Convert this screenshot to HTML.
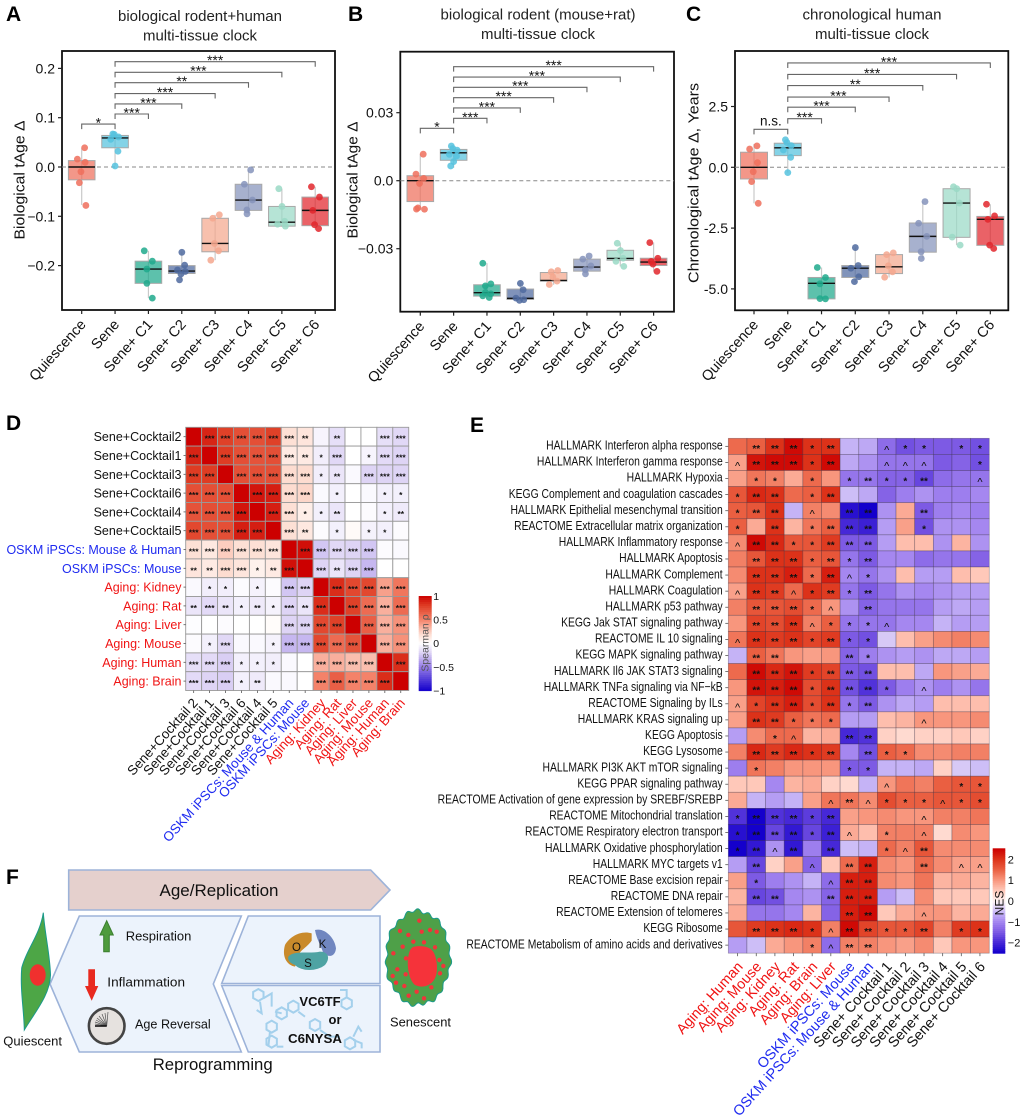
<!DOCTYPE html>
<html lang="en">
<head>
<meta charset="utf-8">
<title>Multi-tissue clock figure</title>
<style>
html,body{margin:0;padding:0;background:#fff;}
#figure{display:block;width:1020px;height:1120px;font-family:"Liberation Sans",sans-serif;}
text{font-family:"Liberation Sans",sans-serif;fill:#111;}
.letter{font-size:21px;font-weight:700;fill:#000;}
.title{font-size:15px;fill:#222;}
</style>
</head>
<body>
<svg id="figure" xmlns="http://www.w3.org/2000/svg" width="1020" height="1120" viewBox="0 0 1020 1120">
  <rect x="0" y="0" width="1020" height="1120" fill="#fff"/>

  <text class="letter" x="6" y="21">A</text>
  <text class="letter" x="348" y="21">B</text>
  <text class="letter" x="686" y="21">C</text>
  <text class="letter" x="6" y="430">D</text>
  <text class="letter" x="470" y="432">E</text>
  <text class="letter" x="6" y="884">F</text>

  <text class="title" x="200" y="21" text-anchor="middle" textLength="164" lengthAdjust="spacingAndGlyphs">biological rodent+human</text>
  <text class="title" x="200" y="40.5" text-anchor="middle" textLength="114" lengthAdjust="spacingAndGlyphs">multi-tissue clock</text>
  <text class="title" x="538" y="19.5" text-anchor="middle" textLength="195" lengthAdjust="spacingAndGlyphs">biological rodent (mouse+rat)</text>
  <text class="title" x="538" y="39" text-anchor="middle" textLength="114" lengthAdjust="spacingAndGlyphs">multi-tissue clock</text>
  <text class="title" x="872" y="19.5" text-anchor="middle" textLength="139" lengthAdjust="spacingAndGlyphs">chronological human</text>
  <text class="title" x="872" y="39" text-anchor="middle" textLength="114" lengthAdjust="spacingAndGlyphs">multi-tissue clock</text>

  <g id="panel-a"></g>
  <g id="panel-b"></g>
  <g id="panel-c"></g>
  <g id="panel-d"></g>
  <g id="panel-e"></g>

  <g id="panel-f">
    <polygon points="68.7,870 370.7,870 390,890 370.7,910 68.7,910" fill="#e5d0cd" stroke="#9db3d9" stroke-width="1.6"/>
    <text x="219" y="896" font-size="17" text-anchor="middle" textLength="119" lengthAdjust="spacingAndGlyphs">Age/Replication</text>
    <polygon points="79.3,916 241.3,916 213.3,984 241.3,1052 79.3,1052 50,984" fill="#ecf3fc" stroke="#9db3d9" stroke-width="1.6"/>
    <polygon points="248.3,916 380,916 380,983.5 221.7,983.5" fill="#ecf3fc" stroke="#9db3d9" stroke-width="1.6"/>
    <polygon points="221.7,985.5 380,985.5 380,1052 248.3,1052" fill="#ecf3fc" stroke="#9db3d9" stroke-width="1.6"/>

    <polygon points="106.7,920.7 113.3,935 109.3,935 109.3,951.7 103.7,951.7 103.7,935 100,935" fill="#4f9b3d" stroke="#3b7f2f"/>
    <polygon points="88.3,969.3 95,969.3 95,986 98.3,986 91.7,1000.7 85,986 88.3,986" fill="#e8291f"/>
    <text x="125.7" y="940.7" font-size="13" textLength="65.7" lengthAdjust="spacingAndGlyphs">Respiration</text>
    <text x="107.3" y="986.7" font-size="13" textLength="77.7" lengthAdjust="spacingAndGlyphs">Inflammation</text>
    <text x="135" y="1028.3" font-size="13" textLength="75.7" lengthAdjust="spacingAndGlyphs">Age Reversal</text>

    <g>
      <circle cx="106.7" cy="1026" r="17.8" fill="#e6e2df" stroke="#444" stroke-width="2.6"/>
      <g stroke="#555" stroke-width="0.7">
        <line x1="106.7" y1="1026" x2="108" y2="1012"/><line x1="106.7" y1="1026" x2="105" y2="1013"/>
        <line x1="106.7" y1="1026" x2="102" y2="1014"/><line x1="106.7" y1="1026" x2="99" y2="1016"/>
        <line x1="106.7" y1="1026" x2="97" y2="1018"/><line x1="106.7" y1="1026" x2="96" y2="1020"/>
        <line x1="106.7" y1="1026" x2="95" y2="1022"/><line x1="106.7" y1="1026" x2="95" y2="1024"/>
      </g>
      <line x1="106.7" y1="1026" x2="95" y2="1026" stroke="#111" stroke-width="1.6"/>
    </g>

    <g transform="translate(0,850) scale(0.33333)">
      <path d="M935,250 C900,240 868,262 855,285 C845,320 860,345 885,350 L900,320 C890,305 920,295 935,272 Z" fill="#c98a2b"/>
      <path d="M945,240 C975,232 1005,265 1008,295 C1005,322 985,322 970,310 C965,290 950,270 945,240 Z" fill="#7086c0"/>
      <path d="M865,320 C880,300 930,312 960,305 C985,305 992,325 975,345 C950,365 905,365 885,345 C870,340 862,330 865,320 Z" fill="#4ea3a3"/>
    </g>
    <text x="296.5" y="951" font-size="11.5" text-anchor="middle">O</text>
    <text x="322.5" y="948" font-size="11.5" text-anchor="middle">K</text>
    <text x="308" y="967" font-size="11.5" text-anchor="middle">S</text>

    <g id="molecules" transform="translate(0,850) scale(0.33333)" fill="none" stroke="#a4d0ec" stroke-width="6"></g>

    <text x="320" y="1006" font-size="13" font-weight="700" text-anchor="middle">VC6TF</text>
    <text x="335" y="1024" font-size="13" font-weight="700" text-anchor="middle">or</text>
    <text x="315" y="1043" font-size="13" font-weight="700" text-anchor="middle" textLength="54" lengthAdjust="spacingAndGlyphs">C6NYSA</text>
    <text x="212.7" y="1070" font-size="17" text-anchor="middle" textLength="120" lengthAdjust="spacingAndGlyphs">Reprogramming</text>

    <path d="M43.3,912.7 C45,935 50,955 50.5,975 C50,995 35,1012 24.3,1030 C24,1010 20,990 21.7,968 C26,950 40,935 43.3,912.7 Z" fill="#4da646" stroke="#1a9a8a" stroke-width="1"/>
    <ellipse cx="37.7" cy="975" rx="8" ry="10.7" fill="#f0302e"/>
    <text x="3.3" y="1045.7" font-size="13" textLength="58.7" lengthAdjust="spacingAndGlyphs">Quiescent</text>

    <polygon id="senescent-body" fill="#4ea048" stroke="#1a9a8a" stroke-width="1"/>
    <path d="M413,947 C420,945 431,946 434,953 C438,962 438,974 434,980 C429,987 421,988 415,985 C409,980 407,967 408,958 C409,952 410,949 413,947 Z" fill="#f5333a"/>
    <g id="senescent-dots"></g>
    <text x="390" y="1026.7" font-size="13" textLength="61" lengthAdjust="spacingAndGlyphs">Senescent</text>
  </g>
</svg>

<script>
// ---------- shared chart data ----------
const boxCategories = ['Quiescence','Sene','Sene+ C1','Sene+ C2','Sene+ C3','Sene+ C4','Sene+ C5','Sene+ C6'];
const boxFillColors = ['#ef6f5c','#55c2de','#1fa98c','#4f6a9f','#f4a78e','#8593bb','#9ad9c6','#e2262c'];

// Panel A
const panelATickValues = [0.2,0.1,0,-0.1,-0.2];
const panelATickLabels = ['0.2','0.1','0.0','\u22120.1','\u22120.2'];
const panelAQ1 = [-0.026,0.039,-0.236,-0.216,-0.172,-0.088,-0.12,-0.119];
const panelAMedian = [0,0.059,-0.207,-0.211,-0.155,-0.067,-0.112,-0.088];
const panelAQ3 = [0.013,0.064,-0.191,-0.2,-0.104,-0.035,-0.08,-0.061];
const panelAWhiskerLow = [-0.077,0.003,-0.266,-0.229,-0.189,-0.095,-0.121,-0.127];
const panelAWhiskerHigh = [0.038,0.07,-0.17,-0.173,-0.097,-0.006,-0.044,-0.04];
const panelAPoints = [
  [0.039,0.016,0.0095,-0.0095,-0.032,-0.078],
  [0.067,0.066,0.061,0.056,0.032,0.002],
  [-0.17,-0.191,-0.207,-0.236,-0.266],
  [-0.173,-0.199,-0.209,-0.212,-0.217,-0.229],
  [-0.097,-0.104,-0.155,-0.17,-0.189],
  [-0.006,-0.035,-0.067,-0.087,-0.095],
  [-0.044,-0.08,-0.11,-0.116,-0.12],
  [-0.04,-0.061,-0.088,-0.117,-0.125]
];
const panelABracketLevels = [0.087,0.1075,0.128,0.149,0.171,0.192,0.2136];
const panelASignificance = ['*','***','***','***','**','***','***'];

// Panel B
const panelBTickValues = [0.03,0,-0.03];
const panelBTickLabels = ['0.03','0.0','\u22120.03'];
const panelBQ1 = [-0.0092,0.009,-0.0509,-0.0524,-0.0443,-0.0399,-0.0351,-0.0374];
const panelBMedian = [0,0.0123,-0.0494,-0.0519,-0.044,-0.0381,-0.0343,-0.0359];
const panelBQ3 = [0.0022,0.0138,-0.0459,-0.0478,-0.0405,-0.0346,-0.0307,-0.0342];
const panelBWhiskerLow = [-0.0129,0.0057,-0.0518,-0.053,-0.0459,-0.0415,-0.0378,-0.04];
const panelBWhiskerHigh = [0.0117,0.015,-0.0364,-0.0452,-0.0396,-0.0332,-0.0276,-0.0273];
const panelBPoints = [
  [0.0117,0.0029,0.001,-0.0012,-0.012,-0.0126,-0.0125],
  [0.0153,0.0142,0.0135,0.0116,0.0109,0.0084,0.0065],
  [-0.0364,-0.0455,-0.0464,-0.0493,-0.0499,-0.0508,-0.0515],
  [-0.0453,-0.0481,-0.0518,-0.0525,-0.0528],
  [-0.0396,-0.0402,-0.0425,-0.0443,-0.0458],
  [-0.0332,-0.0346,-0.0376,-0.0393,-0.0411],
  [-0.0276,-0.0308,-0.0342,-0.0356,-0.0378],
  [-0.0273,-0.0342,-0.0356,-0.0368,-0.04]
];
const panelBBracketLevels = [0.0231,0.0275,0.0321,0.0366,0.0412,0.0457,0.0503];
const panelBSignificance = ['*','***','***','***','***','***','***'];

// Panel C
const panelCTickValues = [2.5,0,-2.5,-5];
const panelCTickLabels = ['2.5','0.0','-2.5','-5.0'];
const panelCQ1 = [-0.48,0.48,-5.41,-4.53,-4.37,-3.49,-2.88,-3.21];
const panelCMedian = [0,0.8,-4.77,-4.15,-4.09,-2.84,-1.47,-2.14];
const panelCQ3 = [0.62,0.99,-4.53,-4.04,-3.59,-2.29,-0.88,-2.02];
const panelCWhiskerLow = [-1.48,-0.22,-5.41,-4.71,-4.53,-3.75,-3.2,-3.34];
const panelCWhiskerHigh = [0.96,1.15,-4.12,-3.3,-3.52,-1.41,-0.8,-1.52];
const panelCPoints = [
  [0.88,0.75,0.19,-0.18,-0.59,-1.48],
  [1.13,1.02,0.89,0.71,0.41,-0.22],
  [-4.12,-4.53,-4.79,-5.4,-5.41],
  [-3.3,-4.04,-4.15,-4.5,-4.7],
  [-3.52,-3.59,-4.05,-4.3,-4.52],
  [-1.41,-2.3,-2.84,-3.47,-3.75],
  [-0.8,-0.88,-1.47,-2.87,-3.2],
  [-1.52,-2.0,-2.14,-3.2,-3.34]
];
const panelCBracketLevels = [1.56,2.0,2.47,2.89,3.36,3.82,4.29];
const panelCSignificance = ['n.s.','***','***','***','**','***','***'];

// Panel D
const corrRowLabels = ['Sene+Cocktail2','Sene+Cocktail1','Sene+Cocktail3','Sene+Cocktail6','Sene+Cocktail4','Sene+Cocktail5','OSKM iPSCs: Mouse & Human','OSKM iPSCs: Mouse','Aging: Kidney','Aging: Rat','Aging: Liver','Aging: Mouse','Aging: Human','Aging: Brain'];
const corrColLabels = ['Sene+Cocktail 2','Sene+Cocktail 1','Sene+Cocktail 3','Sene+Cocktail 6','Sene+Cocktail 4','Sene+Cocktail 5','OSKM iPSCs: Mouse & Human','OSKM iPSCs: Mouse','Aging: Kidney','Aging: Rat','Aging: Liver','Aging: Mouse','Aging: Human','Aging: Brain'];
const corrValues = [
  [1,.88,.78,.72,.72,.78,.18,.15,-.05,-.15,0,0,-.15,-.18],
  [.88,1,.8,.72,.7,.72,.12,.12,-.08,-.18,0,-.05,-.17,-.2],
  [.8,.8,1,.72,.72,.72,.2,.2,-.08,-.12,-.03,-.2,-.2,-.2],
  [.72,.72,.72,1,.93,.9,.2,.22,-.03,-.07,0,-.03,-.07,-.07],
  [.7,.72,.72,.93,1,.9,.18,.1,-.07,-.12,0,-.02,-.07,-.1],
  [.75,.72,.72,.9,.9,1,.18,.13,-.02,-.07,.03,-.06,-.07,-.02],
  [.18,.13,.25,.18,.18,.15,1,.95,-.25,-.18,-.2,-.25,-.02,-.03],
  [.15,.12,.2,.15,.08,.12,.95,1,-.2,-.12,-.2,-.3,0,0],
  [-.03,-.08,-.08,-.02,-.06,-.02,-.25,-.2,1,.85,.75,.75,.4,.55],
  [-.12,-.17,-.12,-.07,-.1,-.06,-.2,-.12,.85,1,.78,.6,.35,.6],
  [-.01,0,-.02,0,0,.02,-.2,-.2,.75,.78,1,.65,.35,.45],
  [-.02,-.07,-.18,-.03,-.03,-.06,-.3,-.3,.75,.6,.7,1,.35,.45],
  [-.15,-.17,-.22,-.07,-.07,-.08,-.03,0,.35,.35,.3,.3,1,.85],
  [-.17,-.2,-.22,-.07,-.1,-.03,-.03,0,.5,.65,.5,.5,.85,1]
];
const corrSignificance = [
  ['','***','***','***','***','***','***','**','','**','','','***','***'],
  ['***','','***','***','***','***','***','**','*','***','','*','***','***'],
  ['***','***','','***','***','***','***','***','*','**','','***','***','***'],
  ['***','***','***','','***','***','***','***','','*','','','*','*'],
  ['***','***','***','***','','***','***','*','*','**','','','*','**'],
  ['***','***','***','***','***','','***','**','','*','','*','*',''],
  ['***','***','***','***','***','***','','***','***','***','***','***','',''],
  ['**','**','***','***','*','**','***','','***','**','***','***','',''],
  ['','*','*','','*','','***','***','','***','***','***','***','***'],
  ['**','***','**','*','**','*','***','**','***','','***','***','***','***'],
  ['','','','','','','***','***','***','***','','***','***','***'],
  ['','*','***','','','*','***','***','***','***','***','','***','***'],
  ['***','***','***','*','*','*','','','***','***','***','***','','***'],
  ['***','***','***','*','**','','','','***','***','***','***','***','']
];
const corrLegendTicks = [1,0.5,0,-0.5,-1];

// Panel E
const nesPathways = ['HALLMARK Interferon alpha response','HALLMARK Interferon gamma response','HALLMARK Hypoxia','KEGG Complement and coagulation cascades','HALLMARK Epithelial mesenchymal transition','REACTOME Extracellular matrix organization','HALLMARK Inflammatory response','HALLMARK Apoptosis','HALLMARK Complement','HALLMARK Coagulation','HALLMARK p53 pathway','KEGG Jak STAT signaling pathway','REACTOME IL 10 signaling','KEGG MAPK signaling pathway','HALLMARK Il6 JAK STAT3 signaling','HALLMARK TNFa signaling via NF\u2212kB','REACTOME Signaling by ILs','HALLMARK KRAS signaling up','KEGG Apoptosis','KEGG Lysosome','HALLMARK PI3K AKT mTOR signaling','KEGG PPAR signaling pathway','REACTOME Activation of gene expression by SREBF/SREBP','REACTOME Mitochondrial translation','REACTOME Respiratory electron transport','HALLMARK Oxidative phosphorylation','HALLMARK MYC targets v1','REACTOME Base excision repair','REACTOME DNA repair','REACTOME Extension of telomeres','KEGG Ribosome','REACTOME Metabolism of amino acids and derivatives'];
const nesColumns = ['Aging: Human','Aging: Mouse','Aging: Kidney','Aging: Rat','Aging: Brain','Aging: Liver','OSKM iPSCs: Mouse','OSKM iPSCs: Mouse & Human','Sene+ Cocktail 1','Sene+ Cocktail 2','Sene+ Cocktail 3','Sene+ Cocktail 4','Sene+ Cocktail 5','Sene+ Cocktail 6'];
const nesValues = [
  [1.4,1.5,2.0,2.4,2.0,2.0,-.6,-.7,-1.3,-1.6,-1.5,-1.5,-1.5,-1.6],
  [.9,2.3,2.4,2.4,2.0,2.4,-.7,-.9,-1.2,-1.2,-1.2,-1.5,-1.4,-1.6],
  [.9,1.3,1.2,.8,1.4,1.0,-1.2,-1.2,-1.4,-1.4,-1.7,-1.3,-1.2,-1.2],
  [1.6,2.1,2.0,1.4,1.5,2.0,-.5,-.7,-1.4,-1.1,-.9,-1.1,-1.1,-1.0],
  [1.5,1.6,2.0,-.6,1.2,1.1,-2.3,-2.5,-.9,.8,-1.5,-1.1,-1.0,-1.1],
  [1.5,.8,2.0,.7,1.3,1.5,-2.0,-2.1,-.8,.9,-1.6,-.9,-.9,-1.0],
  [1.1,2.4,2.1,1.6,1.6,1.9,-1.5,-1.5,-.8,.6,.6,-.9,.7,-.9],
  [1.2,1.6,2.0,2.0,1.5,1.6,-1.2,-1.5,-1.0,-1.0,-1.3,-1.2,-1.2,-1.4],
  [1.1,2.0,2.0,2.2,1.4,2.2,-1.0,-1.2,-.9,.6,-.8,-.8,.6,.5],
  [.9,2.0,1.9,1.4,2.0,1.9,-1.2,-1.5,-1.2,-.9,-1.0,-.9,-.8,-.8],
  [1.2,1.6,1.6,1.7,1.4,1.0,-.9,-1.4,-1.2,-1.2,-1.2,-.8,-.7,-.8],
  [1.0,1.8,1.7,2.0,1.2,1.5,-1.2,-1.2,-1.2,-1.0,-1.0,-.6,-.8,-.8],
  [1.3,2.0,1.9,2.0,1.8,1.9,-1.5,-1.6,-.4,.6,.9,1.1,1.2,1.1],
  [-.6,1.5,1.3,1.0,.9,1.0,-1.4,-1.1,-.9,-.8,-.9,-.7,-.7,-.8],
  [1.4,2.4,2.1,2.3,1.9,1.8,-1.5,-1.6,.6,.6,-.7,1.0,.9,.8],
  [1.0,2.3,2.2,2.4,1.7,2.0,-1.6,-1.9,-1.5,-1.1,-.9,-1.1,-.9,-1.2],
  [.9,1.8,2.0,2.2,1.7,2.0,-1.2,-1.5,-.9,-.7,-.8,.6,.6,.6],
  [.9,2.0,1.9,1.5,1.3,1.4,-.8,-.8,.6,.7,1.0,1.0,1.0,1.1],
  [-.8,1.1,1.4,1.4,.7,.8,-2.0,-1.9,.4,.3,.4,.4,.5,.4],
  [1.2,2.1,1.9,2.1,2.0,1.9,-1.0,-1.6,1.5,1.4,1.1,1.1,1.2,1.2],
  [-1.1,1.3,1.2,1.0,1.0,1.0,-1.5,-1.5,-.6,-.6,-.7,.4,-.4,-.5],
  [.5,.5,-1.0,.7,.8,.4,.3,-.6,1.0,1.3,1.2,1.5,1.6,1.6],
  [.8,-.6,-.8,-.6,.9,1.3,1.3,1.1,1.7,1.5,1.5,1.6,1.6,1.7],
  [-1.9,-2.5,-1.9,-2.0,-1.8,-2.0,.9,1.0,1.1,1.0,1.0,1.2,1.2,1.3],
  [-2.3,-2.6,-1.7,-2.2,-1.7,-2.1,.8,.6,1.2,1.2,1.2,.3,1.1,1.0],
  [-2.5,-2.2,-.9,-2.2,-1.1,-2.0,-.5,-.6,1.4,1.2,1.6,1.1,1.1,1.1],
  [-.8,-1.7,.4,.9,-1.4,.5,1.4,2.2,1.1,1.0,1.4,1.1,.9,.9],
  [.9,-1.5,-1.1,-.9,-.6,-1.3,2.2,2.2,1.1,1.0,1.3,.7,.8,.7],
  [.7,-1.7,-1.6,-1.0,-.9,-1.4,2.2,2.2,-.8,-.5,1.1,.5,.5,.5],
  [.8,-1.2,-1.2,-1.0,.7,-1.4,2.2,2.4,.5,.8,1.0,1.0,.7,.8],
  [1.6,1.9,2.0,2.1,2.0,1.2,2.4,1.8,1.6,1.6,1.8,1.2,1.9,2.0],
  [-.8,-.5,.8,1.0,1.2,-1.3,1.2,1.2,1.0,.9,1.1,.5,1.0,1.0]
];
const nesSignificance = [
  ['','**','**','**','*','**','','','^','*','*','','*','*'],
  ['^','**','**','**','*','**','','','^','^','^','','','*'],
  ['','*','*','','*','','*','**','*','*','**','','','^'],
  ['*','**','**','','*','**','','','','','','','',''],
  ['*','**','**','','^','','**','**','','','**','','',''],
  ['*','','**','','*','**','**','**','','','*','','',''],
  ['^','**','**','*','*','**','**','**','','','','','',''],
  ['','**','**','**','*','**','*','**','','','','','',''],
  ['','**','**','**','*','**','^','*','','','','','',''],
  ['^','**','**','^','*','**','*','**','','','','','',''],
  ['','**','**','**','*','^','','**','','','','','',''],
  ['','**','**','**','^','*','*','*','^','','','','',''],
  ['^','**','**','**','*','**','*','*','','','','','',''],
  ['','**','**','','','','**','*','','','','','',''],
  ['','**','**','**','*','**','**','**','','','','','',''],
  ['','**','**','**','*','**','**','**','*','','^','','',''],
  ['^','*','**','**','*','**','*','**','','','','','',''],
  ['','**','**','*','*','*','','','','','^','','',''],
  ['','','*','^','','','**','**','','','','','',''],
  ['','**','**','**','*','**','','**','*','*','','','',''],
  ['','*','','','','','*','*','','','','','',''],
  ['','','','','','','','','^','','','','*','*'],
  ['','','','','','^','**','^','*','*','*','^','*','*'],
  ['*','**','**','**','*','**','','','','','^','','',''],
  ['*','**','**','**','*','**','^','','*','','^','','',''],
  ['*','**','^','**','','**','','','*','^','**','','',''],
  ['','**','','','^','','**','**','','','**','','^','^'],
  ['','*','','','','^','**','**','','','','','',''],
  ['','**','**','','','**','**','**','','','','','',''],
  ['','','','','','','**','**','','','^','','',''],
  ['','**','**','**','*','^','**','**','*','*','**','','*','*'],
  ['','','','','*','^','**','**','','','','','','']
];
const nesLegendTicks = [2,1,0,-1,-2];

// ---------- helpers ----------
const SVGNS = 'http://www.w3.org/2000/svg';
function make(parent, tag, attrs, txt) {
  const el = document.createElementNS(SVGNS, tag);
  for (const k in attrs) el.setAttribute(k, attrs[k]);
  if (txt !== undefined) el.textContent = txt;
  parent.appendChild(el);
  return el;
}
function slug(s) { return String(s).toLowerCase().replace(/[^a-z0-9]+/g, '-').replace(/^-|-$/g, ''); }
function lerpStops(stops, v) {
  if (v <= stops[0][0]) return 'rgb(' + stops[0][1].join(',') + ')';
  for (let i = 1; i < stops.length; i++) {
    if (v <= stops[i][0]) {
      const t = (v - stops[i-1][0]) / (stops[i][0] - stops[i-1][0]);
      const c = stops[i-1][1].map((a, j) => Math.round(a + (stops[i][1][j] - a) * t));
      return 'rgb(' + c.join(',') + ')';
    }
  }
  return 'rgb(' + stops[stops.length-1][1].join(',') + ')';
}
function labelColor(s) {
  if (s.indexOf('Aging') === 0) return '#f01414';
  if (s.indexOf('OSKM') === 0) return '#1f2bf0';
  return '#111';
}

// ---------- box plot panels ----------
function jitterOf(i, g) { return Math.sin((i + 1) * 2.4 + g * 1.3) * 0.13; }

function drawBoxPanel(cfg) {
  const root = document.getElementById(cfg.id);
  const yScale = v => cfg.zeroY - v * cfg.unitPx;
  const xScale = i => cfg.firstX + i * cfg.stepX;

  const frame = make(root, 'rect', {x: cfg.left, y: cfg.top, width: cfg.right - cfg.left, height: cfg.bottom - cfg.top, fill: '#fff', stroke: '#111', 'stroke-width': 1.8});
  
  

  const zero = make(root, 'line', {x1: cfg.left, x2: cfg.right, y1: yScale(0), y2: yScale(0), stroke: '#888', 'stroke-width': 1, 'stroke-dasharray': '4 3'});
  
  

  cfg.tickValues.forEach((v, i) => {
    const t = make(root, 'line', {x1: cfg.left - 4, x2: cfg.left, y1: yScale(v), y2: yScale(v), stroke: '#222', 'stroke-width': 1.2});
    
    
    const l = make(root, 'text', {x: cfg.left - 7, y: yScale(v) + 5, 'font-size': 14, 'text-anchor': 'end'}, cfg.tickLabels[i]);
    
    
  });

  const yTitle = make(root, 'text', {transform: 'translate(' + cfg.titleX + ',' + cfg.titleY + ') rotate(-90)', 'font-size': 14.5, 'text-anchor': 'middle', textLength: cfg.titleLen, lengthAdjust: 'spacingAndGlyphs'}, cfg.yTitle);
  
  

  boxCategories.forEach((cat, g) => {
    const x = xScale(g);
    const color = boxFillColors[g];

    const whisker = make(root, 'line', {x1: x, x2: x, y1: yScale(cfg.whiskerHigh[g]), y2: yScale(cfg.whiskerLow[g]), stroke: '#c9c9c9', 'stroke-width': 1.2});
    
    

    const box = make(root, 'rect', {x: x - cfg.halfBox, y: yScale(cfg.q3[g]), width: cfg.halfBox * 2, height: yScale(cfg.q1[g]) - yScale(cfg.q3[g]), fill: color, 'fill-opacity': 0.72, stroke: '#a8a8a8', 'stroke-width': 1});
    
    

    const median = make(root, 'line', {x1: x - cfg.halfBox, x2: x + cfg.halfBox, y1: yScale(cfg.median[g]), y2: yScale(cfg.median[g]), stroke: '#111', 'stroke-width': 1.4});
    
    

    cfg.points[g].forEach((v, i) => {
      const dot = make(root, 'circle', {cx: x + jitterOf(i, g) * cfg.stepX, cy: yScale(v), r: 3.4, fill: color, 'fill-opacity': 0.85});
      
      
    });

    const tick = make(root, 'line', {x1: x, x2: x, y1: cfg.bottom, y2: cfg.bottom + 4, stroke: '#222', 'stroke-width': 1.2});
    
    

    const label = make(root, 'text', {transform: 'translate(' + (x + 5) + ',' + (cfg.bottom + 15) + ') rotate(-48)', 'font-size': 14.5, 'text-anchor': 'end'}, cat);
    
    
  });

  // significance brackets: first compares groups 0-1, the rest compare Sene against each cocktail
  cfg.bracketLevels.forEach((lvl, i) => {
    const a = i === 0 ? 0 : 1;
    const b = i === 0 ? 1 : i + 1;
    const y = yScale(lvl);
    const path = make(root, 'path', {d: 'M' + xScale(a) + ' ' + (y + 5) + 'V' + y + 'H' + xScale(b) + 'V' + (y + 5), fill: 'none', stroke: '#666', 'stroke-width': 1.1});
    
    
    const sig = cfg.significance[i];
    const isText = sig === 'n.s.';
    const mark = make(root, 'text', {x: (xScale(a) + xScale(b)) / 2, y: isText ? y - 4 : y + 3.4, 'font-size': isText ? 13.5 : 14, 'text-anchor': 'middle'}, sig);
    
    
  });
}

drawBoxPanel({id: 'panel-a', left: 62, right: 335, top: 51, bottom: 310, zeroY: 167, unitPx: 493, firstX: 81.7, stepX: 33.36, halfBox: 13.3,
  tickValues: panelATickValues, tickLabels: panelATickLabels, q1: panelAQ1, median: panelAMedian, q3: panelAQ3, whiskerLow: panelAWhiskerLow, whiskerHigh: panelAWhiskerHigh, points: panelAPoints, bracketLevels: panelABracketLevels, significance: panelASignificance,
  yTitle: 'Biological tAge \u0394', titleX: 24.5, titleY: 180, titleLen: 119});
drawBoxPanel({id: 'panel-b', left: 400.3, right: 674, top: 51.7, bottom: 311.7, zeroY: 180.7, unitPx: 2267, firstX: 420.3, stepX: 33.33, halfBox: 13.3,
  tickValues: panelBTickValues, tickLabels: panelBTickLabels, q1: panelBQ1, median: panelBMedian, q3: panelBQ3, whiskerLow: panelBWhiskerLow, whiskerHigh: panelBWhiskerHigh, points: panelBPoints, bracketLevels: panelBBracketLevels, significance: panelBSignificance,
  yTitle: 'Biological tAge \u0394', titleX: 357.5, titleY: 180, titleLen: 117});
drawBoxPanel({id: 'panel-c', left: 735, right: 1008.3, top: 51, bottom: 310.3, zeroY: 167.3, unitPx: 24.32, firstX: 754, stepX: 33.76, halfBox: 13.5,
  tickValues: panelCTickValues, tickLabels: panelCTickLabels, q1: panelCQ1, median: panelCMedian, q3: panelCQ3, whiskerLow: panelCWhiskerLow, whiskerHigh: panelCWhiskerHigh, points: panelCPoints, bracketLevels: panelCBracketLevels, significance: panelCSignificance,
  yTitle: 'Chronological tAge \u0394, Years', titleX: 698.5, titleY: 183, titleLen: 200});

// ---------- panel D ----------
const corrStops = [[-1,[20,0,204]],[-.5,[150,125,230]],[-.2,[222,212,245]],[0,[255,255,255]],[.2,[253,220,208]],[.5,[244,130,105]],[.8,[222,60,35]],[1,[204,0,0]]];
(function drawCorr() {
  const root = document.getElementById('panel-d');
  const left = 185.7, top = 427.3, cw = 15.93, ch = 18.8;
  const n = corrRowLabels.length;
  corrValues.forEach((row, r) => {
    row.forEach((v, c) => {
      const cell = make(root, 'rect', {x: left + c * cw, y: top + r * ch, width: cw, height: ch, fill: lerpStops(corrStops, v), stroke: '#9a9a9a', 'stroke-width': 0.9});
      
      
      const s = corrSignificance[r][c];
      if (s) {
        const star = make(root, 'text', {x: left + (c + .5) * cw, y: top + (r + .5) * ch + 5, 'font-size': 8.5, 'font-weight': 700, 'text-anchor': 'middle'}, s);
        
        
      }
    });
  });
  corrRowLabels.forEach((s, r) => {
    const t = make(root, 'text', {x: 181.5, y: top + (r + .5) * ch + 4.5, 'font-size': 12.5, 'text-anchor': 'end', fill: labelColor(s)}, s);
    t.style.fill = labelColor(s);
    
    
    const tk = make(root, 'line', {x1: 183.5, x2: left, y1: top + (r + .5) * ch, y2: top + (r + .5) * ch, stroke: '#555', 'stroke-width': .8});
    
    
  });
  corrColLabels.forEach((s, c) => {
    const cx = left + (c + .5) * cw;
    const t = make(root, 'text', {transform: 'translate(' + (cx + 5) + ',' + (top + n * ch + 13) + ') rotate(-48)', 'font-size': 13.4, 'text-anchor': 'end'}, s);
    t.style.fill = labelColor(s);
    
    
    const tk = make(root, 'line', {x1: cx, x2: cx, y1: top + n * ch, y2: top + n * ch + 2.5, stroke: '#555', 'stroke-width': .8});
    
    
  });
  // legend
  const lx = 418.7, lw = 13, ly = 596, lh = 94.7;
  for (let i = 0; i < 48; i++) {
    const v = 1 - 2 * (i + .5) / 48;
    const seg = make(root, 'rect', {x: lx, y: ly + i * lh / 48, width: lw, height: lh / 48 + .4, fill: lerpStops(corrStops, v)});
    
    
  }
  corrLegendTicks.forEach(v => {
    const y = ly + (1 - v) / 2 * lh;
    const t = make(root, 'text', {x: lx + lw + 1.5, y: y + 3.8, 'font-size': 10.5}, String(v).replace('-', '\u2212'));
    
    
  });
  const lt = make(root, 'text', {transform: 'translate(428.5,643) rotate(-90)', 'font-size': 10.5, 'text-anchor': 'middle'}, 'Spearman \u03C1');
  lt.style.fill = '#555';
  
  
})();

// ---------- panel E ----------
const nesStops = [[-2.5,[20,0,204]],[-2,[70,40,215]],[-1.5,[125,90,228]],[-1,[165,135,240]],[-.5,[205,190,247]],[0,[255,245,243]],[.5,[255,200,185]],[1,[248,150,125]],[1.5,[234,95,65]],[2,[220,50,25]],[2.5,[204,0,0]]];
(function drawNes() {
  const root = document.getElementById('panel-e');
  const left = 728.3, top = 438.3, cw = 18.64, ch = 16.09;
  const nr = nesPathways.length;
  nesValues.forEach((row, r) => {
    row.forEach((v, c) => {
      const cell = make(root, 'rect', {x: left + c * cw, y: top + r * ch, width: cw, height: ch, fill: lerpStops(nesStops, v), stroke: 'rgba(50,40,60,.4)', 'stroke-width': .7});
      
      
      const s = nesSignificance[r][c];
      if (s) {
        const caret = s === '^';
        const star = make(root, 'text', {x: left + (c + .5) * cw, y: top + (r + .5) * ch + (caret ? 7 : 5.8), 'font-size': caret ? 11 : 10, 'font-weight': caret ? 400 : 700, 'text-anchor': 'middle'}, s);
        
        
      }
    });
  });
  const labels = make(root, 'g', {transform: 'translate(722.7,0) scale(0.81,1)'});
  
  
  nesPathways.forEach((s, r) => {
    const y = top + (r + .5) * ch;
    const t = make(labels, 'text', {x: 0, y: y + 3.2, 'font-size': 12.8, 'text-anchor': 'end'}, s);
    
    
    const tk = make(root, 'line', {x1: left - 3, x2: left, y1: y, y2: y, stroke: '#555', 'stroke-width': .8});
    
    
  });
  nesColumns.forEach((s, c) => {
    const cx = left + (c + .5) * cw;
    const t = make(root, 'text', {transform: 'translate(' + (cx + 6) + ',' + (top + nr * ch + 14) + ') rotate(-48)', 'font-size': 14.4, 'text-anchor': 'end'}, s);
    t.style.fill = labelColor(s);
    
    
    const tk = make(root, 'line', {x1: cx, x2: cx, y1: top + nr * ch, y2: top + nr * ch + 3, stroke: '#555', 'stroke-width': .8});
    
    
  });
  // legend
  const lx = 992.7, lw = 12.6, ly = 848.3, lh = 105;
  for (let i = 0; i < 52; i++) {
    const v = 2.53 - 5.05 * (i + .5) / 52;
    const seg = make(root, 'rect', {x: lx, y: ly + i * lh / 52, width: lw, height: lh / 52 + .4, fill: lerpStops(nesStops, v)});
    
    
  }
  nesLegendTicks.forEach(v => {
    const y = 901 - v * 20.8;
    const t = make(root, 'text', {x: lx + lw + 2.5, y: y + 4, 'font-size': 11}, String(v).replace('-', '\u2212'));
    
    
  });
  const lt = make(root, 'text', {transform: 'translate(1003.5,903) rotate(-90)', 'font-size': 12, 'text-anchor': 'middle'}, 'NES');
  
  
})();

// ---------- panel F decoration ----------
(function drawSchematic() {
  const body = document.getElementById('senescent-body');
  const cx = 418, cy = 958, rx = 32, ry = 47;
  const pts = [];
  for (let i = 0; i < 180; i++) {
    const a = i / 180 * Math.PI * 2;
    const k = 1 + 0.035 * Math.sin(a * 19) + 0.02 * Math.sin(a * 7 + 1);
    pts.push((cx + Math.cos(a) * rx * k).toFixed(1) + ',' + (cy + Math.sin(a) * ry * k).toFixed(1));
  }
  body.setAttribute('points', pts.join(' '));

  const dotLayer = document.getElementById('senescent-dots');
  const dots = [[1258,212],[1200,243],[1265,245],[1290,240],[1310,245],[1225,255],[1240,275],[1272,277],[1208,290],[1305,292],[1180,310],[1218,325],[1318,330],[1330,348],[1192,358],[1178,378],[1217,373],[1320,370],[1188,398],[1213,408],[1250,425],[1294,412],[1226,437],[1272,445]];
  dots.forEach(d => {
    const c = make(dotLayer, 'circle', {cx: d[0] / 3, cy: 850 + d[1] / 3, r: 2.2, fill: '#f0353a'});
    
    
  });

  const mol = document.getElementById('molecules');
  const hexes = [[775,435],[880,470],[845,490],[815,530],[1040,460],[945,525],[1050,580],[815,575]];
  hexes.forEach(h => {
    const p = [];
    for (let i = 0; i < 6; i++) {
      const a = Math.PI / 3 * i + Math.PI / 6;
      p.push((h[0] + Math.cos(a) * 18).toFixed(1) + ',' + (h[1] + Math.sin(a) * 18).toFixed(1));
    }
    const poly = make(mol, 'polygon', {points: p.join(' ')});
    
    
  });
  const bonds = ['790,445 815,430 815,470','780,455 785,490 770,480','825,485 845,490','895,485 915,500','1040,440 1040,420 1020,420','1060,570 1085,580 1085,595','1060,560 1075,530 1085,545','960,540 990,560 1020,560','810,545 805,590','830,590 850,590'];
  bonds.forEach(b => {
    const line = make(mol, 'polyline', {points: b});
    
    
  });
})();
</script>
</body>
</html>
